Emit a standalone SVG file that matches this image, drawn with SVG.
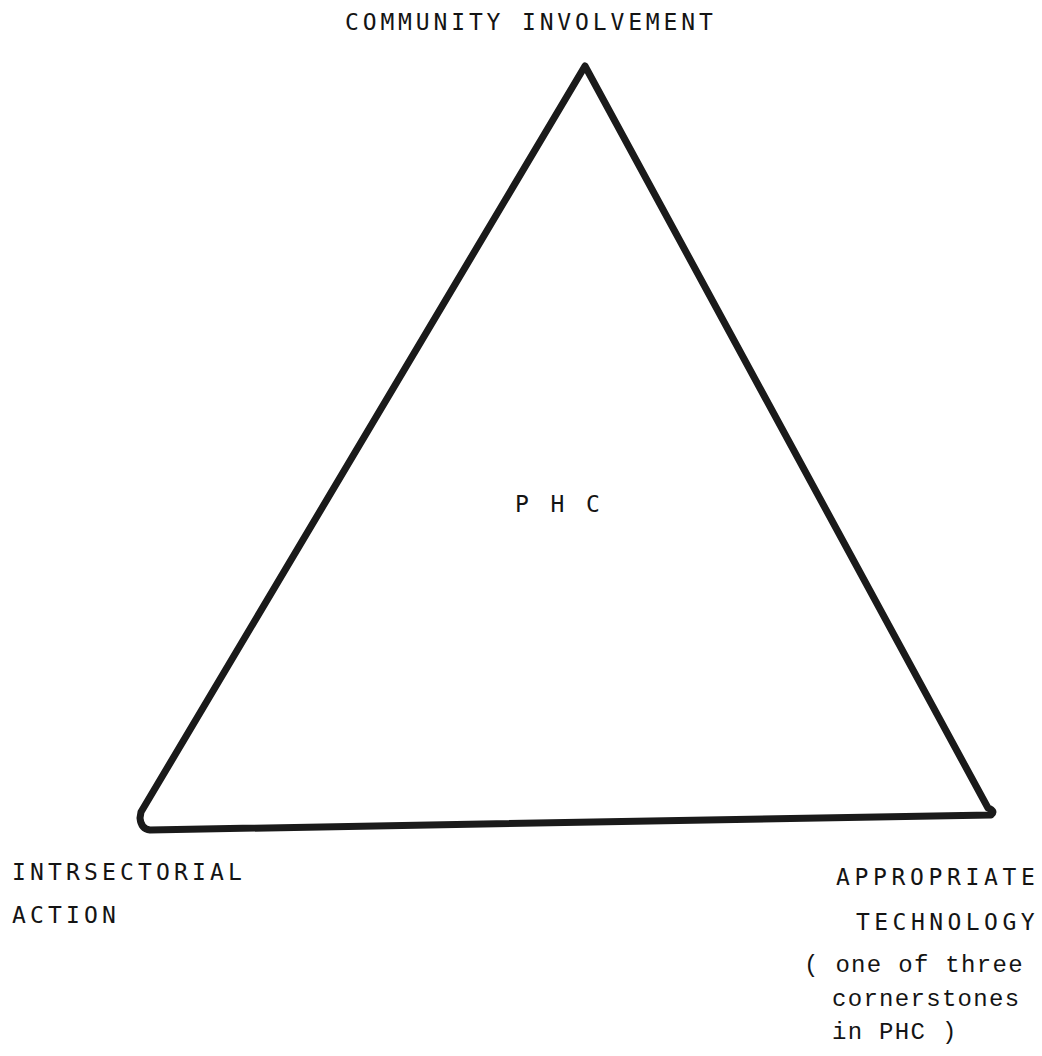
<svg xmlns="http://www.w3.org/2000/svg" width="1042" height="1056" viewBox="0 0 1042 1056">
<style>
.cap{font-family:"DejaVu Sans Mono","Liberation Mono",monospace;font-size:23px;fill:#141414}
.low{font-family:"Liberation Mono","DejaVu Sans Mono",monospace;font-size:24px;letter-spacing:1.3px;fill:#141414}
.edge{fill:none;stroke:#1a1a1a;stroke-width:7;stroke-linejoin:round;stroke-linecap:round}
</style>
<rect width="1042" height="1056" fill="#fff"/>
<g id="connectors">
<path class="edge" d="M585,66 L988,808 Q996,811 991,815 L150,830 Q141,829 140,818 L141,812 Z"/>
</g>
<g id="node-top"><text class="cap" x="345" y="30" letter-spacing="3.85">COMMUNITY INVOLVEMENT</text></g>
<g id="node-center"><text class="cap" x="515" y="512" letter-spacing="3.9">P H C</text></g>
<g id="node-left">
<text class="cap" x="12" y="880" letter-spacing="4.15">INTRSECTORIAL</text>
<text class="cap" x="12" y="923" letter-spacing="4.15">ACTION</text>
</g>
<g id="node-right">
<text class="cap" x="836" y="885" letter-spacing="4.65">APPROPRIATE</text>
<text class="cap" x="856" y="930" letter-spacing="4.45">TECHNOLOGY</text>
</g>
<g id="note">
<text class="low" x="804" y="972">( one of three</text>
<text class="low" x="832" y="1006">cornerstones</text>
<text class="low" x="832" y="1039">in PHC )</text>
</g>
</svg>
